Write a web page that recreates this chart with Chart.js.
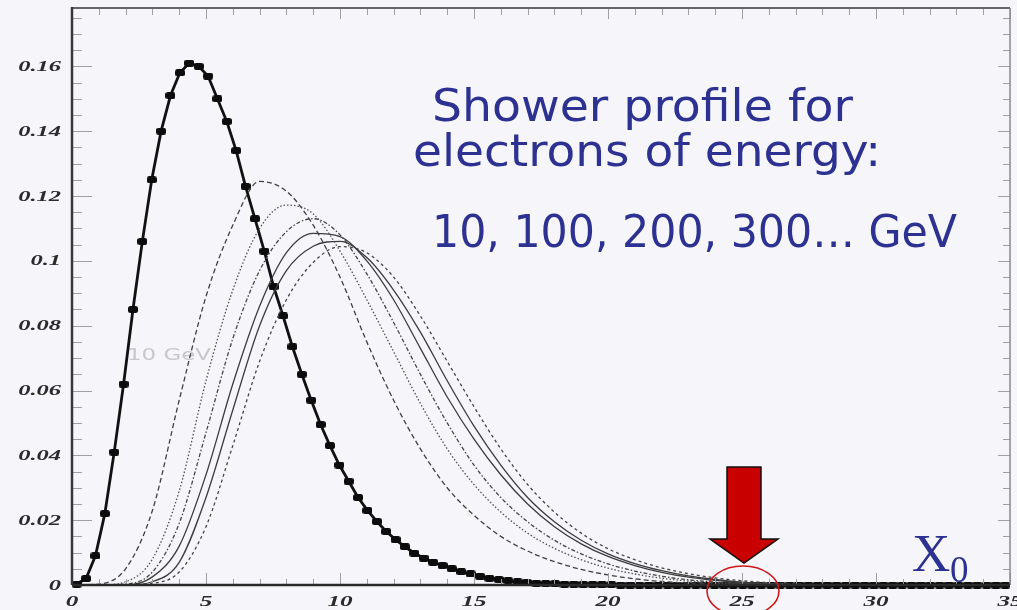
<!DOCTYPE html>
<html>
<head>
<meta charset="utf-8">
<script src="https://cdn.jsdelivr.net/npm/chart.js@4.4.1/dist/chart.umd.min.js"></script>
<style>
  html, body { margin: 0; padding: 0; background: #f6f6fa; overflow: hidden; }
  #wrap { position: relative; width: 1030px; height: 610px; }
</style>
</head>
<body>
<div id="wrap"><canvas id="shower"></canvas></div>
<script>
// depth t in radiation lengths (X0) for the smooth profiles
const depth = [0,1,2,3,4,5,6,7,8,9,10,11,12,13,14,15,16,17,18,19,20,21,22,23,24,25,26,27,28,29,30,31,32,33,34,35];

// 10 GeV: histogram, 100 bins from 0 to 35 X0
const BIN_WIDTH = 0.35;
const profile10 = [
  0.0003, 0.002, 0.009, 0.022, 0.041, 0.062, 0.085, 0.106, 0.125, 0.140,
  0.151, 0.158, 0.161, 0.160, 0.157, 0.150, 0.143, 0.134, 0.123, 0.113,
  0.103, 0.092, 0.083, 0.0735, 0.065, 0.057, 0.0495, 0.043, 0.037, 0.032,
  0.027, 0.023, 0.0196, 0.0165, 0.014, 0.0118, 0.0098, 0.0083, 0.0070, 0.0060,
  0.0050, 0.0041, 0.0034, 0.0027, 0.0021, 0.0017, 0.0013, 0.0010, 0.0008, 0.0006,
  0.0005, 0.0004, 0.0003, 0.0003, 0.0002, 0.0002, 0.0001, 0.0001, 0, 0,
  0, 0, 0, 0, 0, 0, 0, 0, 0, 0,
  0, 0, 0, 0, 0, 0, 0, 0, 0, 0,
  0, 0, 0, 0, 0, 0, 0, 0, 0, 0,
  0, 0, 0, 0, 0, 0, 0, 0, 0, 0
];

// higher energies, sampled at integer depth
const profile100 = [0, 0.0003, 0.005, 0.023, 0.057, 0.089, 0.111, 0.1245, 0.1215, 0.111, 0.095, 0.075, 0.057, 0.042, 0.030, 0.0215, 0.015, 0.0105, 0.0072, 0.0048, 0.0031, 0.0019, 0.0011, 0.0006, 0.0003, 0.0001, 0, 0, 0, 0, 0, 0, 0, 0, 0, 0];
const profile200 = [0, 0, 0.001, 0.008, 0.029, 0.063, 0.091, 0.110, 0.1172, 0.1145, 0.103, 0.088, 0.072, 0.056, 0.042, 0.031, 0.0225, 0.016, 0.0113, 0.0078, 0.0052, 0.0034, 0.0021, 0.0012, 0.0006, 0.0003, 0.0001, 0, 0, 0, 0, 0, 0, 0, 0, 0];
const profile300 = [0, 0, 0.0003, 0.004, 0.019, 0.047, 0.076, 0.097, 0.109, 0.113, 0.108, 0.096, 0.081, 0.065, 0.050, 0.037, 0.027, 0.0195, 0.0138, 0.0096, 0.0065, 0.0043, 0.0027, 0.0016, 0.0009, 0.0004, 0.0002, 0.0001, 0, 0, 0, 0, 0, 0, 0, 0];
const profile400 = [0, 0, 0, 0.0025, 0.012, 0.034, 0.062, 0.086, 0.1025, 0.1085, 0.1075, 0.100, 0.088, 0.073, 0.058, 0.045, 0.034, 0.025, 0.018, 0.0127, 0.0088, 0.006, 0.0039, 0.0024, 0.0014, 0.0007, 0.0003, 0.0001, 0, 0, 0, 0, 0, 0, 0, 0];
const profile500 = [0, 0, 0, 0.001, 0.007, 0.027, 0.054, 0.080, 0.097, 0.1045, 0.106, 0.101, 0.091, 0.078, 0.063, 0.049, 0.037, 0.027, 0.0195, 0.0138, 0.0096, 0.0066, 0.0044, 0.0028, 0.0017, 0.0009, 0.0004, 0.0001, 0, 0, 0, 0, 0, 0, 0, 0];
const profile600 = [0, 0, 0, 0.0005, 0.004, 0.018, 0.043, 0.069, 0.088, 0.0995, 0.1044, 0.1025, 0.095, 0.083, 0.069, 0.055, 0.042, 0.031, 0.0225, 0.016, 0.0112, 0.0078, 0.0053, 0.0035, 0.0022, 0.0013, 0.0007, 0.0003, 0.0001, 0, 0, 0, 0, 0, 0, 0];

// tick labels
const xTickLabels = [0, 5, 10, 15, 20, 25, 30, 35];
const yTickLabels = [0, 0.02, 0.04, 0.06, 0.08, 0.1, 0.12, 0.14, 0.16];

const titleLines = ['Shower profile for', 'electrons of energy:', '10, 100, 200, 300… GeV'];
const tagLabel = '10 GeV';

const toPoints = (xs, ys) => ys.map((y, i) => ({ x: xs[i], y }));
const binCenters = profile10.map((_, i) => (i + 0.5) * BIN_WIDTH);

// flat black blob used as histogram marker
const blob = document.createElement('canvas');
blob.width = 10;
blob.height = 7;
(() => {
    const c = blob.getContext('2d');
    c.fillStyle = '#0c0c0c';
    c.beginPath();
    c.roundRect(0, 0, 10, 7, 2.5);
    c.fill();
})();

const thin = (label, values, dash, color) => ({
    label,
    data: toPoints(depth, values),
    borderColor: color,
    borderWidth: 1.3,
    borderDash: dash,
    pointRadius: 0,
    cubicInterpolationMode: 'monotone',
    fill: false,
});

// text squeezed/stretched horizontally to a given width
const fitText = (ctx, text, x, y, width) => {
    const w = ctx.measureText(text).width;
    ctx.save();
    ctx.translate(x, y);
    ctx.scale(width / w, 1);
    ctx.fillText(text, 0, 0);
    ctx.restore();
};

const wideText = (ctx, text, x, y, sx, align) => {
    const w = ctx.measureText(text).width;
    const off = align === 'right' ? -w : align === 'center' ? -w / 2 : 0;
    ctx.save();
    ctx.translate(x, y);
    ctx.scale(sx, 1);
    ctx.fillText(text, off, 0);
    ctx.restore();
};

const decorations = {
    id: 'decorations',
    beforeDatasetsDraw(chart) {
        const { ctx, scales: { x, y } } = chart;
        ctx.save();
        ctx.fillStyle = '#c8c8cc';
        ctx.font = '16px "DejaVu Sans"';
        ctx.textBaseline = 'alphabetic';
        fitText(ctx, tagLabel, x.getPixelForValue(2.05), y.getPixelForValue(0.0695), 84);
        ctx.restore();
    },
    afterDatasetsDraw(chart) {
        const { ctx, chartArea: { left, right, top, bottom }, scales: { x, y } } = chart;
        ctx.save();

        // minor / major ticks pointing into the frame
        ctx.strokeStyle = '#a0a0a0';
        ctx.lineWidth = 1;
        ctx.beginPath();
        for (let v = 0; v <= 35; v++) {
            const px = Math.round(x.getPixelForValue(v)) + 0.5;
            const major = v % 5 === 0;
            ctx.moveTo(px, bottom); ctx.lineTo(px, bottom - (major ? 12 : 6));
            ctx.moveTo(px, top); ctx.lineTo(px, top + (major ? 11 : 7));
        }
        for (let i = 0; i <= 35; i++) {
            const py = Math.round(y.getPixelForValue(i * 0.005)) + 0.5;
            const major = i % 4 === 0;
            ctx.moveTo(left, py); ctx.lineTo(left + (major ? 20 : 10), py);
            ctx.moveTo(right, py); ctx.lineTo(right - (major ? 12 : 7), py);
        }
        ctx.stroke();

        // frame
        ctx.lineWidth = 2;
        ctx.strokeStyle = '#666';
        ctx.beginPath(); ctx.moveTo(left, top); ctx.lineTo(right, top); ctx.stroke();
        ctx.lineWidth = 1.5;
        ctx.strokeStyle = '#888';
        ctx.beginPath(); ctx.moveTo(right, top); ctx.lineTo(right, bottom); ctx.stroke();
        ctx.lineWidth = 2.5;
        ctx.strokeStyle = '#383838';
        ctx.beginPath(); ctx.moveTo(left, top - 1); ctx.lineTo(left, bottom); ctx.stroke();
        ctx.strokeStyle = '#2a2a2a';
        ctx.beginPath(); ctx.moveTo(left, bottom); ctx.lineTo(right, bottom); ctx.stroke();

        // tick labels
        ctx.fillStyle = '#2b2b2b';
        ctx.font = 'italic bold 14px "Liberation Serif"';
        ctx.textBaseline = 'middle';
        yTickLabels.forEach(v => {
            wideText(ctx, String(v), 61, y.getPixelForValue(v) + 1, 1.75, 'right');
        });
        xTickLabels.forEach(v => {
            wideText(ctx, String(v), x.getPixelForValue(v), 602, 1.8, 'center');
        });

        // title text
        ctx.fillStyle = '#2d3191';
        ctx.textBaseline = 'alphabetic';
        ctx.font = '44px "DejaVu Sans"';
        fitText(ctx, titleLines[0], 432, 121, 421);
        fitText(ctx, titleLines[1], 413, 166, 468);
        fitText(ctx, titleLines[2], 432, 247, 525);

        // X0 unit
        ctx.font = '53px "Liberation Serif"';
        ctx.fillText('X', 912, 571);
        ctx.font = '37px "Liberation Serif"';
        ctx.fillText('0', 950, 582);

        // arrow and circle at 25 X0
        const ax = x.getPixelForValue(25) + 2;
        ctx.beginPath();
        ctx.moveTo(ax - 17, 467);
        ctx.lineTo(ax + 17, 467);
        ctx.lineTo(ax + 17, 539);
        ctx.lineTo(ax + 34, 539);
        ctx.lineTo(ax, 563);
        ctx.lineTo(ax - 34, 539);
        ctx.lineTo(ax - 17, 539);
        ctx.closePath();
        ctx.fillStyle = '#c80000';
        ctx.fill();
        ctx.lineWidth = 1.5;
        ctx.strokeStyle = '#111';
        ctx.stroke();

        ctx.beginPath();
        ctx.ellipse(ax - 1, 591, 36, 25, 0, 0, Math.PI * 2);
        ctx.lineWidth = 1.6;
        ctx.strokeStyle = '#d01818';
        ctx.stroke();

        ctx.restore();
    }
};

new Chart(document.getElementById('shower'), {
    type: 'line',
    data: {
        datasets: [
            thin('100 GeV', profile100, [5, 3], '#404040'),
            thin('200 GeV', profile200, [1.5, 2], '#505050'),
            thin('300 GeV', profile300, [4, 2, 1.5, 2], '#454545'),
            thin('400 GeV', profile400, [], '#3c3c3c'),
            thin('500 GeV', profile500, [], '#3c3c3c'),
            thin('600 GeV', profile600, [3, 3], '#454545'),
            {
                label: '10 GeV',
                data: toPoints(binCenters, profile10),
                borderColor: '#111',
                backgroundColor: '#111',
                borderWidth: 2.8,
                pointStyle: blob,
                pointRadius: 4,
                tension: 0,
                clip: 8,
                fill: false,
            },
        ],
    },
    options: {
        responsive: true,
        maintainAspectRatio: false,
        animation: false,
        events: [],
        layout: { padding: { top: 8, right: 20, left: 0, bottom: 0 } },
        plugins: { legend: { display: false }, tooltip: { enabled: false } },
        scales: {
            x: {
                type: 'linear', min: 0, max: 35,
                ticks: { display: false, stepSize: 5 },
                grid: { display: false },
                border: { display: false },
                afterFit: (s) => { s.height = 25; },
            },
            y: {
                min: 0, max: 0.178,
                ticks: { display: false, stepSize: 0.02 },
                grid: { display: false },
                border: { display: false },
                afterFit: (s) => { s.width = 72; },
            },
        },
    },
    plugins: [decorations],
});
</script>
</body>
</html>
